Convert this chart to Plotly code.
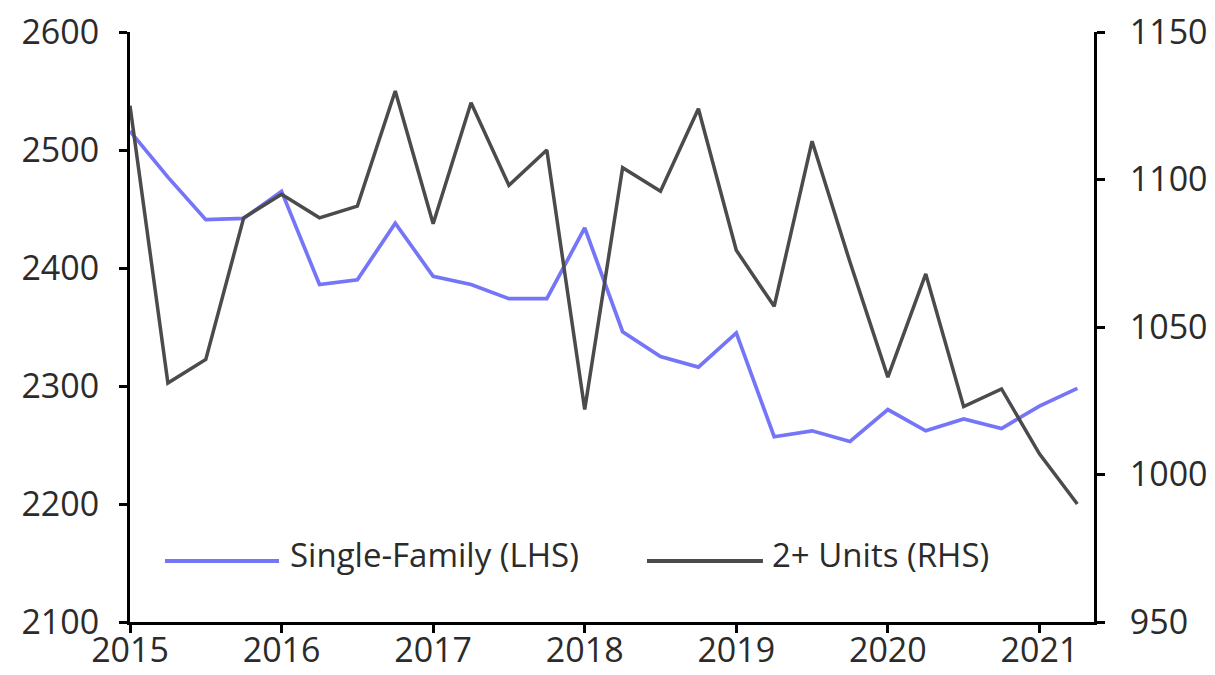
import plotly.graph_objects as go

quarters = ["2015Q1", "2015Q2", "2015Q3", "2015Q4",
            "2016Q1", "2016Q2", "2016Q3", "2016Q4",
            "2017Q1", "2017Q2", "2017Q3", "2017Q4",
            "2018Q1", "2018Q2", "2018Q3", "2018Q4",
            "2019Q1", "2019Q2", "2019Q3", "2019Q4",
            "2020Q1", "2020Q2", "2020Q3", "2020Q4",
            "2021Q1", "2021Q2"]

single_family = [2516, 2477, 2441, 2442, 2465, 2386, 2390, 2438,
                 2393, 2386, 2374, 2374, 2434, 2346, 2325, 2316,
                 2345, 2257, 2262, 2253, 2280, 2262, 2272, 2264,
                 2283, 2298]

units_2plus = [1125, 1031, 1039, 1087, 1095, 1087, 1091, 1130,
               1085, 1126, 1098, 1110, 1022, 1104, 1096, 1124,
               1076, 1057, 1113, 1072, 1033, 1068, 1023, 1029,
               1007, 990]

year_ticks = [2015, 2016, 2017, 2018, 2019, 2020, 2021]
left_ticks = [2100, 2200, 2300, 2400, 2500, 2600]
right_ticks = [950, 1000, 1050, 1100, 1150]

series_names = ["Single-Family (LHS)", "2+ Units (RHS)"]
colors = ["#7575F7", "#4B4B4B"]

x = [int(q[:4]) + (int(q[-1]) - 1) / 4 for q in quarters]

FONT = "Open Sans"
TXT = "#2b2b2b"

fig = go.Figure()
fig.add_trace(go.Scatter(x=x, y=single_family, mode="lines", name=series_names[0],
                         line=dict(color=colors[0], width=3.7), yaxis="y"))
fig.add_trace(go.Scatter(x=x, y=units_2plus, mode="lines", name=series_names[1],
                         line=dict(color=colors[1], width=3.5), yaxis="y2"))

axis_common = dict(showgrid=False, zeroline=False, showline=True, linecolor="black",
                   linewidth=3, ticks="outside", ticklen=8, tickwidth=3, tickcolor="black",
                   automargin=False, ticklabeloverflow="allow",
                   tickfont=dict(family=FONT, size=34, color=TXT))

# page body has an 8px margin, so the figure is sized to fit the 1215x675 window
fig.update_layout(
    width=1207, height=667,
    margin=dict(l=122, r=121, t=24, b=53),
    paper_bgcolor="white", plot_bgcolor="white",
    showlegend=False,
    xaxis=dict(range=[2015, 2021.36], tickvals=year_ticks, ticklabelstandoff=-12,
               ticktext=[str(v) for v in year_ticks], **axis_common),
    yaxis=dict(range=[2100, 2600], tickvals=left_ticks, ticklabelstandoff=13,
               **axis_common),
    yaxis2=dict(range=[950, 1150], tickvals=right_ticks, overlaying="y", side="right",
                ticklabelstandoff=18, **axis_common),
)

# legend drawn inside the plot area
legend_items = [(0.0363, 0.1546, 0.1640), (0.5363, 0.6566, 0.6640)]
for (x0, x1, xt), name, col in zip(legend_items, series_names, colors):
    fig.add_shape(type="line", xref="paper", yref="paper", x0=x0, x1=x1,
                  y0=0.1034, y1=0.1034, line=dict(color=col, width=4))
    fig.add_annotation(xref="paper", yref="paper", x=xt, y=0.115, text=name,
                       showarrow=False, xanchor="left", yanchor="middle",
                       font=dict(family=FONT, size=33, color=TXT))

fig.write_html("out.html")
